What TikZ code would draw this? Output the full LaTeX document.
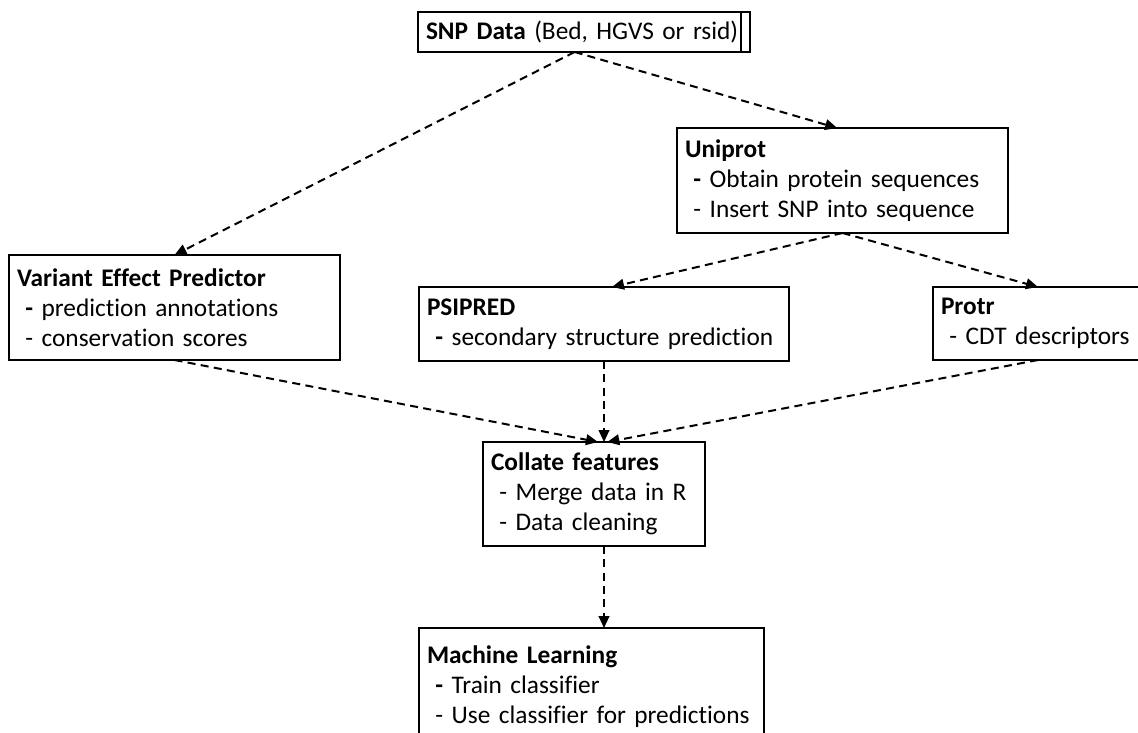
\documentclass[tikz,border=0pt]{standalone}
\usepackage{fontspec}
\setmainfont{Carlito}[Ligatures=NoCommon]
\usetikzlibrary{arrows.meta,calc}
\begin{document}
\begin{tikzpicture}[x=0.75pt,y=-0.75pt,
  box/.style 2 args={draw, line width=1.5pt, anchor=north west, inner xsep=6pt, inner ysep=1pt,
    text width={(#1-16)*0.75pt}, minimum height={#2*0.75pt}, align=left,
    font=\fontsize{19}{22.5}\selectfont, outer sep=0pt},
  flow/.style={line width=1.5pt, dash pattern=on 6pt off 4pt, -{Triangle[length=9pt,width=8pt]}}
]
\useasboundingbox (0,0) rectangle (1138,732);

\node[box={332}{40}] (snp) at (418,12) {\textbf{SNP Data} (Bed, HGVS or rsid)};
\draw[line width=1.5pt] ([xshift=-6.75pt]snp.north east) -- ([xshift=-6.75pt]snp.south east);

\node[box={331}{105}] (uniprot) at (677,128) {\textbf{Uniprot}\\\ \textbf{-} Obtain protein sequences\\\ - Insert SNP into sequence};

\node[box={331}{105}] (vep) at (9,255) {\textbf{Variant Effect Predictor}\\\ \textbf{-} prediction annotations\\\ - conservation scores};

\node[box={370}{74}] (psipred) at (419,287) {\textbf{PSIPRED}\\\ \textbf{-} secondary structure prediction};

\node[box={210}{73}] (protr) at (933,287) {\textbf{Protr}\\\ - CDT descriptors};

\node[box={222}{104}] (collate) at (483,442) {\textbf{Collate features}\\\ - Merge data in R\\\ - Data cleaning};

\node[box={345}{117}] (ml) at (419,628) {\textbf{Machine Learning}\\\ \textbf{-} Train classifier\\\ - Use classifier for predictions};

\draw[flow] ([xshift=-7pt]snp.south) -- (vep.north);
\draw[flow] ([xshift=-7pt]snp.south) -- ([xshift=-4pt]uniprot.north);
\draw[flow] (uniprot.south) -- ([xshift=6pt]psipred.north);
\draw[flow] (uniprot.south) -- (protr.north);
\draw[flow] (vep.south) -- ([xshift=3pt]collate.north);
\draw[flow] (psipred.south) -- (psipred.south |- collate.north);
\draw[flow] (protr.south) -- ([xshift=10pt]collate.north);
\draw[flow] (psipred.south |- collate.south) -- (psipred.south |- ml.north);
\end{tikzpicture}
\end{document}
